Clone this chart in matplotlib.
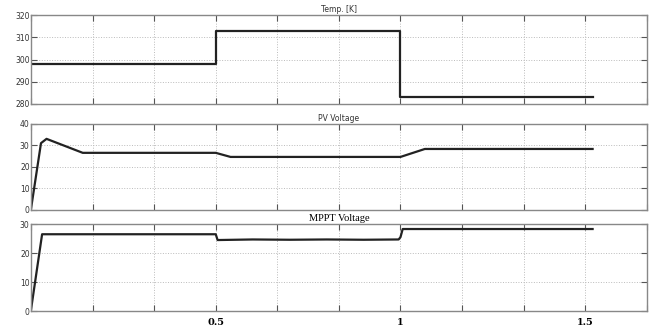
import matplotlib.pyplot as plt
import numpy as np

# Temperatura (K): escalones
temp_t = [0.0, 0.5, 0.5, 1.0, 1.0, 1.52]
temp_k = [298, 298, 313, 313, 283, 283]

# Tension del panel PV
pv_t = [0.0, 0.027, 0.042, 0.14, 0.5, 0.54, 1.0, 1.066, 1.52]
pv_v = [0.5, 31.0, 33.0, 26.5, 26.5, 24.6, 24.6, 28.3, 28.3]

# Tension MPPT
mppt_t = [0.0, 0.03, 0.5, 0.505, 0.6, 0.7, 0.8, 0.9, 0.995, 1.0, 1.006, 1.52]
mppt_v = [0.5, 26.5, 26.5, 24.5, 24.7, 24.6, 24.7, 24.6, 24.7, 25.5, 28.3, 28.3]

xticks = [k / 6 for k in range(11)]
xlabels = {3: '0.5', 6: '1', 9: '1.5'}

fig = plt.figure(figsize=(6.53, 3.31), dpi=100)

paneles = [
    ([0.0475, 0.686, 0.943, 0.268], temp_t, temp_k, (280, 320), [280, 290, 300, 310, 320], 'Temp. [K]'),
    ([0.0475, 0.366, 0.943, 0.260], pv_t, pv_v, (0, 40), [0, 10, 20, 30, 40], 'PV Voltage'),
    ([0.0475, 0.060, 0.943, 0.263], mppt_t, mppt_v, (0, 30), [0, 10, 20, 30], 'MPPT Voltage'),
]

for i, (pos, t, v, ylim, yticks, titulo) in enumerate(paneles):
    ax = fig.add_axes(pos)
    ax.plot(t, v, color='#222222', lw=1.6)
    ax.set_xlim(0, 10 / 6)
    ax.set_ylim(*ylim)
    ax.set_yticks(yticks)
    ax.set_xticks(xticks)
    ax.grid(True, color='#bbbbbb', linestyle=':', lw=0.7)
    ax.tick_params(direction='in', top=True, right=True, length=4,
                   color='#555555', labelsize=5.5, labelcolor='#333333', pad=1)
    for s in ax.spines.values():
        s.set_color('#888888')
        s.set_linewidth(1.0)
    if i < 2:
        ax.set_xticklabels([])
        ax.set_title(titulo, fontsize=5.5, pad=2, color='#333333')
    else:
        ax.set_xticklabels([xlabels.get(k, '') for k in range(11)],
                           family='DejaVu Serif', fontsize=7, fontweight='bold')
        ax.tick_params(axis='x', pad=5, labelcolor='black')
        ax.set_title(titulo, fontsize=7.5, pad=2, family='Liberation Serif')

plt.savefig('out.png', dpi=100)
